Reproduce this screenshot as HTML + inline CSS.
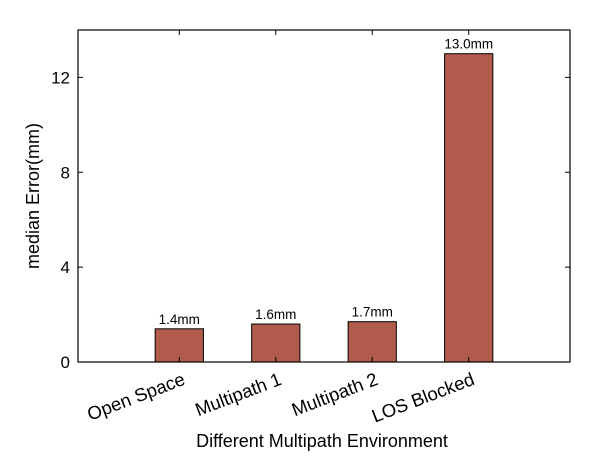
<!DOCTYPE html>
<html><head><meta charset="utf-8"><style>
body{margin:0;background:#fff}
svg text{font-family:"Liberation Sans",Arial,sans-serif;fill:#000}
</style></head><body>
<svg id="chart" width="597" height="470" viewBox="0 0 597 470" xmlns="http://www.w3.org/2000/svg">
<g id="marks"></g>
<g id="axes"></g>
</svg>
<script>
const categories = ["Open Space","Multipath 1","Multipath 2","LOS Blocked"];
const values = [1.4,1.6,1.7,13.0];
const valueLabels = ["1.4mm","1.6mm","1.7mm","13.0mm"];
const yTicks = [0,4,8,12];

const L=78,R=570,T=30,B=362;
const xMin=-0.05,xMax=5.05,yMin=0,yMax=14;
const xs=v=>L+(v-xMin)/(xMax-xMin)*(R-L);
const ys=v=>B-(v-yMin)/(yMax-yMin)*(B-T);
const NS="http://www.w3.org/2000/svg";
const marks=document.getElementById('marks');
const axes=document.getElementById('axes');
function mk(tag,attrs,parent,text){const e=document.createElementNS(NS,tag);for(const k in attrs)e.setAttribute(k,attrs[k]);if(text!==undefined)e.textContent=text;parent.appendChild(e);return e;}

categories.forEach((c,i)=>{
  const cx=xs(i+1),w=xs(0.25)-xs(-0.25);
  const r=mk('rect',{x:cx-w/2,y:ys(values[i]),width:w,height:ys(0)-ys(values[i]),fill:'#b05b4c',stroke:'#000','stroke-width':1},marks);
  
  
  const t=mk('text',{x:cx,y:ys(values[i])-5,'text-anchor':'middle','font-size':13.5},marks,valueLabels[i]);
  
  
  const tk=mk('path',{d:`M${cx},${B}v-5M${cx},${T}v5`,stroke:'#000','stroke-width':1},axes);
  
  
  const xl=mk('text',{x:0,y:0,'text-anchor':'end','font-size':18.5,transform:`translate(${cx+7},${B+22}) rotate(-21)`},axes,c);
  
  
});
yTicks.forEach(v=>{
  const y=ys(v);
  const tk=mk('path',{d:`M${L},${y}h5M${R},${y}h-5`,stroke:'#000','stroke-width':1},axes);
  
  
  const tl=mk('text',{x:L-8,y:y+6,'text-anchor':'end','font-size':17},axes,String(v));
  
  
});
const box=mk('rect',{x:L,y:T,width:R-L,height:B-T,fill:'none',stroke:'#000','stroke-width':1.2},axes);


const xt=mk('text',{x:(L+R)/2-2,y:447,'text-anchor':'middle','font-size':18},axes,'Different Multipath Environment');


const yt=mk('text',{x:0,y:0,'text-anchor':'middle','font-size':18,transform:`translate(39,${(T+B)/2}) rotate(-90)`},axes,'median Error(mm)');


</script>
</body></html>
